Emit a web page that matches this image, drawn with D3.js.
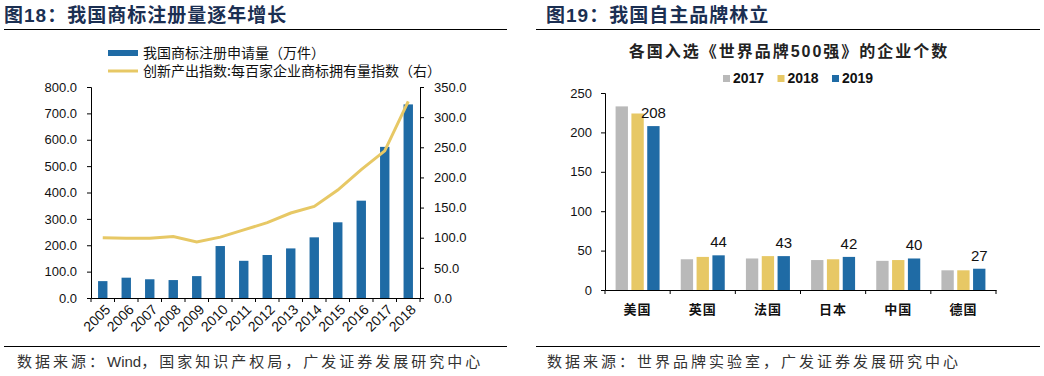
<!DOCTYPE html>
<html>
<head>
<meta charset="utf-8">
<script src="https://cdn.jsdelivr.net/npm/d3@7"></script>
<style>
body { margin: 0; background: #fff; }
text { font-family: "Liberation Sans", Arial, "Noto Sans CJK SC", sans-serif; }
.cjk { font-family: "Noto Sans CJK SC", sans-serif; }
</style>
</head>
<body>
<div id="chart"></div>
<script>
// left chart data
var years = ["2005","2006","2007","2008","2009","2010","2011","2012","2013","2014","2015","2016","2017","2018"];
var applications = [64, 77, 71, 68, 83, 197, 141, 163, 188, 230, 287, 369, 573, 734];
var brandIndex = [100, 99, 99, 102, 93, 101, 113, 125, 141, 152, 179, 213, 244, 326];
var leftTicks = [0, 100, 200, 300, 400, 500, 600, 700, 800];
var rightTicks = [0, 50, 100, 150, 200, 250, 300, 350];

// right chart data
var countries = ["美国", "英国", "法国", "日本", "中国", "德国"];
var seriesYears = ["2017", "2018", "2019"];
var counts2017 = [233, 39, 40, 38, 37, 25];
var counts2018 = [224, 42, 43, 39, 38, 25];
var counts2019 = [208, 44, 43, 42, 40, 27];
var countTicks = [0, 50, 100, 150, 200, 250];

var blue = "#1f6ba5", yellow = "#e7c865", gray = "#b9b9b9", navy = "#1b2f52";

var svg = d3.select("#chart").append("svg")
	.attr("width", 1044)
	.attr("height", 376);

// ---------- titles, rules, sources ----------
function header(x, num, title, ruleX1, ruleX2) {
	var t = svg.append("text")
		.attr("x", x).attr("y", 22)
		.style("font-size", "19px")
		.style("font-weight", "bold")
		.style("letter-spacing", "1px")
		.style("fill", navy);
	t.append("tspan").attr("class", "cjk").text("图");
	t.append("tspan").text(num);
	t.append("tspan").attr("class", "cjk").text("：" + title);
	svg.append("line")
		.attr("x1", ruleX1).attr("x2", ruleX2)
		.attr("y1", 29.5).attr("y2", 29.5)
		.style("stroke", "#000").style("stroke-width", 1);
}
header(4, "18", "我国商标注册量逐年增长", 4, 507);
header(546, "19", "我国自主品牌林立", 536, 1040);

function footer(x, parts, ruleX1, ruleX2) {
	svg.append("line")
		.attr("x1", ruleX1).attr("x2", ruleX2)
		.attr("y1", 346.5).attr("y2", 346.5)
		.style("stroke", "#000").style("stroke-width", 1);
	var t = svg.append("text")
		.attr("x", x).attr("y", 367)
		.style("font-size", "15px")
		.style("fill", "#333");
	parts.forEach(function(p) {
		var latin = /^[A-Za-z]+$/.test(p);
		t.append("tspan")
			.attr("class", latin ? null : "cjk")
			.style("letter-spacing", latin ? "0px" : "3px")
			.text(p);
	});
}
footer(17, ["数据来源：", "Wind", "，国家知识产权局，广发证券发展研究中心"], 4, 507);
footer(547, ["数据来源：世界品牌实验室，广发证券发展研究中心"], 536, 1040);

// ---------- left chart ----------
var L = { x0: 91, x1: 420, y0: 298, y1: 87 };

var x = d3.scaleBand()
	.domain(years)
	.range([L.x0, L.x1]);

var yL = d3.scaleLinear().domain([0, 800]).range([L.y0, L.y1]);
var yR = d3.scaleLinear().domain([0, 350]).range([L.y0, L.y1]);

svg.append("g")
	.selectAll("rect")
	.data(applications)
	.enter().append("rect")
	.attr("x", function(d, i) { return x(years[i]) + x.bandwidth() * 0.3; })
	.attr("width", x.bandwidth() * 0.4)
	.attr("y", function(d) { return yL(d); })
	.attr("height", function(d) { return L.y0 - yL(d); })
	.style("fill", blue);

var line = d3.line()
	.x(function(d, i) { return x(years[i]) + x.bandwidth() / 2; })
	.y(function(d) { return yR(d); });

svg.append("path")
	.attr("d", line(brandIndex))
	.attr("fill", "none")
	.style("stroke", yellow)
	.style("stroke-width", "3px");

var axL = svg.append("g")
	.attr("transform", "translate(" + L.x0 + ",0)")
	.call(d3.axisLeft(yL).tickValues(leftTicks).tickFormat(d3.format(".1f")).tickSize(4).tickPadding(10));
var axR = svg.append("g")
	.attr("transform", "translate(" + L.x1 + ",0)")
	.call(d3.axisRight(yR).tickValues(rightTicks).tickFormat(d3.format(".1f")).tickSize(4).tickPadding(10));
var axX = svg.append("g")
	.attr("transform", "translate(0," + L.y0 + ")")
	.call(d3.axisBottom(x).tickSize(0).tickFormat(""));

// band edge ticks on the x axis
axX.selectAll("line.edge")
	.data(years.concat(["end"]))
	.enter().append("line")
	.attr("class", "edge")
	.attr("x1", function(d, i) { return L.x0 + i * x.step(); })
	.attr("x2", function(d, i) { return L.x0 + i * x.step(); })
	.attr("y1", 0).attr("y2", 4)
	.style("stroke", "#000");

svg.append("g")
	.selectAll("text")
	.data(years)
	.enter().append("text")
	.attr("transform", function(d) {
		return "translate(" + (x(d) + x.bandwidth() / 2 + 5) + "," + (L.y0 + 9) + ") rotate(-45)";
	})
	.attr("text-anchor", "end")
	.attr("dy", "0.35em")
	.style("font-size", "14px")
	.style("fill", "#111")
	.text(function(d) { return d; });

[axL, axR, axX].forEach(function(a) {
	a.select(".domain").style("stroke", "#000");
	a.selectAll("text").style("font-size", "13px").style("fill", "#111")
		.style("font-family", "'Liberation Sans', Arial, sans-serif");
});

// left legend
var legL = svg.append("g");
legL.append("rect").attr("x", 108).attr("y", 50).attr("width", 30).attr("height", 6).style("fill", blue);
legL.append("text").attr("class", "cjk").attr("x", 143).attr("y", 58)
	.style("font-size", "14px").style("fill", "#111").text("我国商标注册申请量（万件）");
legL.append("line").attr("x1", 108).attr("x2", 138).attr("y1", 71).attr("y2", 71)
	.style("stroke", yellow).style("stroke-width", 3);
legL.append("text").attr("class", "cjk").attr("x", 143).attr("y", 76)
	.style("font-size", "14px").style("fill", "#111").text("创新产出指数:每百家企业商标拥有量指数（右）");

// ---------- right chart ----------
var R = { x0: 605, x1: 996, y0: 290, y1: 93 };

var x0 = d3.scaleBand().domain(countries).range([R.x0, R.x1]);
var x1 = d3.scaleBand().domain(seriesYears).range([-22, 22]).paddingInner(0.22);
var y2 = d3.scaleLinear().domain([0, 250]).range([R.y0, R.y1]);
var colors = d3.scaleOrdinal().domain(seriesYears).range([gray, yellow, blue]);
var allCounts = [counts2017, counts2018, counts2019];

var groups = svg.append("g")
	.selectAll("g")
	.data(countries)
	.enter().append("g")
	.attr("transform", function(d) { return "translate(" + (x0(d) + x0.bandwidth() / 2) + ",0)"; });

groups.selectAll("rect")
	.data(function(d, i) { return seriesYears.map(function(s, k) { return { s: s, v: allCounts[k][i] }; }); })
	.enter().append("rect")
	.attr("x", function(d) { return x1(d.s); })
	.attr("width", x1.bandwidth())
	.attr("y", function(d) { return y2(d.v); })
	.attr("height", function(d) { return R.y0 - y2(d.v); })
	.style("fill", function(d) { return colors(d.s); });

groups.append("text")
	.attr("x", x1("2019") + x1.bandwidth() / 2)
	.attr("y", function(d, i) { return y2(counts2019[i]) - 8; })
	.attr("text-anchor", "middle")
	.style("font-size", "15px")
	.style("fill", "#111")
	.text(function(d, i) { return counts2019[i]; });

var ay2 = svg.append("g")
	.attr("transform", "translate(" + R.x0 + ",0)")
	.call(d3.axisLeft(y2).tickValues(countTicks).tickSize(4).tickPadding(9));
var ax2 = svg.append("g")
	.attr("transform", "translate(0," + R.y0 + ")")
	.call(d3.axisBottom(x0).tickSize(0).tickFormat(""));

ax2.selectAll("line.edge")
	.data(countries.concat(["end"]))
	.enter().append("line")
	.attr("class", "edge")
	.attr("x1", function(d, i) { return R.x0 + i * x0.step(); })
	.attr("x2", function(d, i) { return R.x0 + i * x0.step(); })
	.attr("y1", 0).attr("y2", 4)
	.style("stroke", "#000");

[ay2, ax2].forEach(function(a) {
	a.select(".domain").style("stroke", "#000");
	a.selectAll("text").style("font-size", "13px").style("fill", "#111");
});

svg.append("g")
	.selectAll("text")
	.data(countries)
	.enter().append("text")
	.attr("class", "cjk")
	.attr("x", function(d) { return x0(d) + x0.bandwidth() / 2; })
	.attr("y", 314)
	.attr("text-anchor", "middle")
	.style("font-size", "13px")
	.style("font-weight", "bold")
	.style("letter-spacing", "1px")
	.style("fill", "#111")
	.text(function(d) { return d; });

// subtitle
var sub = svg.append("text")
	.attr("x", 789).attr("y", 57)
	.attr("text-anchor", "middle")
	.style("font-size", "16px")
	.style("font-weight", "bold")
	.style("letter-spacing", "2px")
	.style("fill", "#222");
sub.append("tspan").attr("class", "cjk").text("各国入选《世界品牌");
sub.append("tspan").text("500");
sub.append("tspan").attr("class", "cjk").text("强》的企业个数");

// right legend
var legR = svg.append("g")
	.selectAll("g")
	.data(seriesYears)
	.enter().append("g")
	.attr("transform", function(d, i) { return "translate(" + (723 + i * 54.5) + ",75)"; });
legR.append("rect").attr("width", 7).attr("height", 7).style("fill", function(d) { return colors(d); });
legR.append("text").attr("x", 10).attr("y", 8)
	.style("font-size", "14px").style("font-weight", "bold").style("fill", "#111")
	.text(function(d) { return d; });
</script>
</body>
</html>
